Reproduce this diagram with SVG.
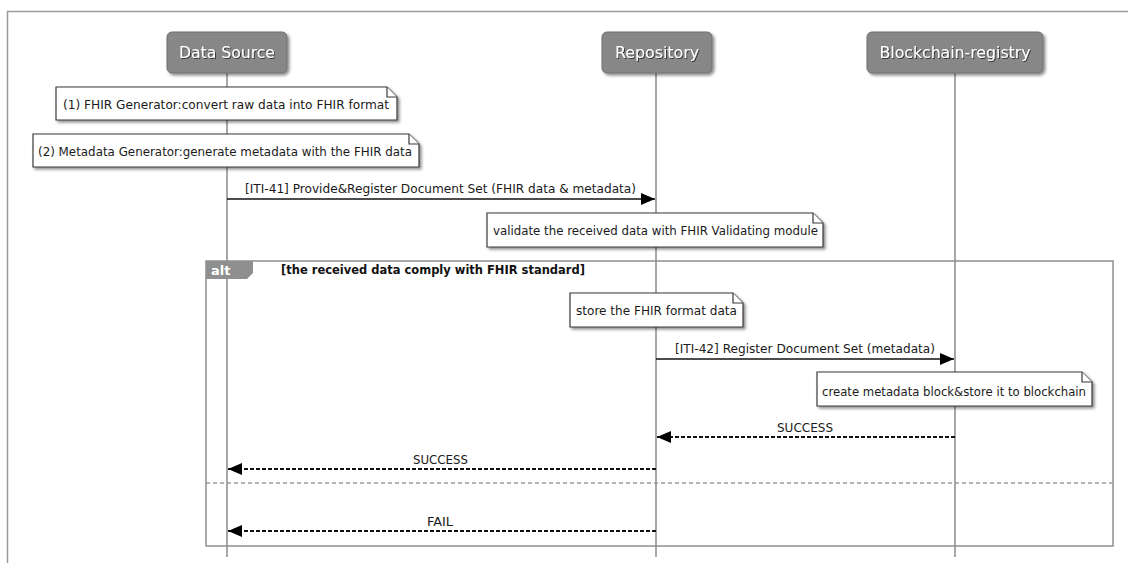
<svg xmlns="http://www.w3.org/2000/svg" width="1128" height="563" viewBox="0 0 1128 563">
  <style>
    text { font-family: "DejaVu Sans", "Liberation Sans", sans-serif; }
    .frame { fill: none; stroke: #9a9a9a; stroke-width: 1.5; }
    .life { stroke: #8a8a8a; stroke-width: 1.5; }
    .part { fill: #878787; stroke: #6e6e6e; stroke-width: 1; }
    .ptxt { fill: #ffffff; font-size: 16px; text-anchor: middle; }
    .note { fill: #ffffff; stroke: #3a3a3a; stroke-width: 1.2; }
    .ntxt { fill: #1a1a1a; font-size: 13px; }
    .msg { stroke: #111111; stroke-width: 1.6; fill: none; }
    .ret { stroke: #111111; stroke-width: 1.8; fill: none; stroke-dasharray: 4 2; }
    .mtxt { fill: #1a1a1a; font-size: 13px; }
    .alt { fill: none; stroke: #8f8f8f; stroke-width: 1.5; }
    .sep { stroke: #9a9a9a; stroke-width: 1.5; stroke-dasharray: 4 3; }
  </style>
  <defs>
    <filter id="shadow" x="-10%" y="-20%" width="130%" height="160%">
      <feDropShadow dx="2" dy="2" stdDeviation="1.5" flood-color="#000" flood-opacity="0.45"/>
    </filter>
    <filter id="tshadow" x="-5%" y="-20%" width="115%" height="160%">
      <feDropShadow dx="1" dy="1" stdDeviation="0.6" flood-color="#000" flood-opacity="0.6"/>
    </filter>
    <marker id="head" viewBox="0 0 14 12" refX="14" refY="6" markerWidth="14" markerHeight="12" markerUnits="userSpaceOnUse" orient="auto">
      <path d="M0,0 L14,6 L0,12 Z" fill="#000"/>
    </marker>
  </defs>

  <rect width="1128" height="563" fill="#ffffff"/>
  <!-- outer page frame -->
  <path class="frame" d="M7.5,563 V11.5 H1128"/>

  <!-- lifelines -->
  <g id="lifelines">
    <line class="life" x1="227" y1="73" x2="227" y2="557"/>
    <line class="life" x1="656" y1="73" x2="656" y2="557"/>
    <line class="life" x1="955" y1="73" x2="955" y2="557"/>
  </g>

  <!-- participants -->
  <g id="data-source">
    <rect class="part" x="167" y="32" width="120" height="41" rx="5" filter="url(#shadow)"/>
    <text class="ptxt" x="227" y="58" filter="url(#tshadow)" textLength="96" lengthAdjust="spacingAndGlyphs">Data Source</text>
  </g>
  <g id="repository">
    <rect class="part" x="602" y="32" width="110" height="41" rx="5" filter="url(#shadow)"/>
    <text class="ptxt" x="657" y="58" filter="url(#tshadow)" textLength="84" lengthAdjust="spacingAndGlyphs">Repository</text>
  </g>
  <g id="blockchain-registry">
    <rect class="part" x="867" y="32" width="176" height="41" rx="5" filter="url(#shadow)"/>
    <text class="ptxt" x="955" y="58" filter="url(#tshadow)" textLength="151" lengthAdjust="spacingAndGlyphs">Blockchain-registry</text>
  </g>

  <!-- alt fragment -->
  <g id="alt-fragment">
    <rect class="alt" x="206" y="261" width="907" height="285"/>
    <path d="M206,261 H253 V273 L247,279 H206 Z" fill="#8f8f8f"/>
    <text x="211" y="275" fill="#ffffff" font-size="13" font-weight="bold">alt</text>
    <text x="281" y="274" fill="#111111" font-size="13" font-weight="bold" textLength="304" lengthAdjust="spacingAndGlyphs">[the received data comply with FHIR standard]</text>
    <line class="sep" x1="206" y1="483" x2="1113" y2="483"/>
  </g>

  <!-- notes -->
  <g id="note-fhir-generator">
    <path class="note" d="M56,87 H387 L397,97 V120 H56 Z" filter="url(#shadow)"/>
    <path class="note" d="M387,87 V97 H397"/>
    <text class="ntxt" x="63" y="108.5" textLength="326" lengthAdjust="spacingAndGlyphs">(1) FHIR Generator:convert raw data into FHIR format</text>
  </g>
  <g id="note-metadata-generator">
    <path class="note" d="M33,134 H409 L419,144 V167 H33 Z" filter="url(#shadow)"/>
    <path class="note" d="M409,134 V144 H419"/>
    <text class="ntxt" x="38" y="155.5" textLength="374" lengthAdjust="spacingAndGlyphs">(2) Metadata Generator:generate metadata with the FHIR data</text>
  </g>
  <g id="note-validate">
    <path class="note" d="M487,213 H813 L823,223 V247 H487 Z" filter="url(#shadow)"/>
    <path class="note" d="M813,213 V223 H823"/>
    <text class="ntxt" x="493" y="235" textLength="325" lengthAdjust="spacingAndGlyphs">validate the received data with FHIR Validating module</text>
  </g>
  <g id="note-store">
    <path class="note" d="M570,293 H733 L743,303 V327 H570 Z" filter="url(#shadow)"/>
    <path class="note" d="M733,293 V303 H743"/>
    <text class="ntxt" x="576" y="315" textLength="161" lengthAdjust="spacingAndGlyphs">store the FHIR format data</text>
  </g>
  <g id="note-create-block">
    <path class="note" d="M817,372 H1082 L1092,382 V406 H817 Z" filter="url(#shadow)"/>
    <path class="note" d="M1082,372 V382 H1092"/>
    <text class="ntxt" x="822" y="395.5" textLength="264" lengthAdjust="spacingAndGlyphs">create metadata block&amp;store it to blockchain</text>
  </g>

  <!-- messages -->
  <g id="connectors">
    <line class="msg" x1="227" y1="199" x2="655" y2="199" marker-end="url(#head)"/>
    <text class="mtxt" x="245" y="193" textLength="391" lengthAdjust="spacingAndGlyphs">[ITI-41] Provide&amp;Register Document Set (FHIR data &amp; metadata)</text>

    <line class="msg" x1="656" y1="359" x2="954" y2="359" marker-end="url(#head)"/>
    <text class="mtxt" x="675" y="353" textLength="260" lengthAdjust="spacingAndGlyphs">[ITI-42] Register Document Set (metadata)</text>

    <line class="ret" x1="955" y1="437" x2="657" y2="437" marker-end="url(#head)"/>
    <text class="mtxt" x="777" y="432" textLength="56" lengthAdjust="spacingAndGlyphs">SUCCESS</text>

    <line class="ret" x1="656" y1="469" x2="228" y2="469" marker-end="url(#head)"/>
    <text class="mtxt" x="413" y="464" textLength="55" lengthAdjust="spacingAndGlyphs">SUCCESS</text>

    <line class="ret" x1="656" y1="531" x2="228" y2="531" marker-end="url(#head)"/>
    <text class="mtxt" x="427" y="526" textLength="26" lengthAdjust="spacingAndGlyphs">FAIL</text>
  </g>
</svg>
